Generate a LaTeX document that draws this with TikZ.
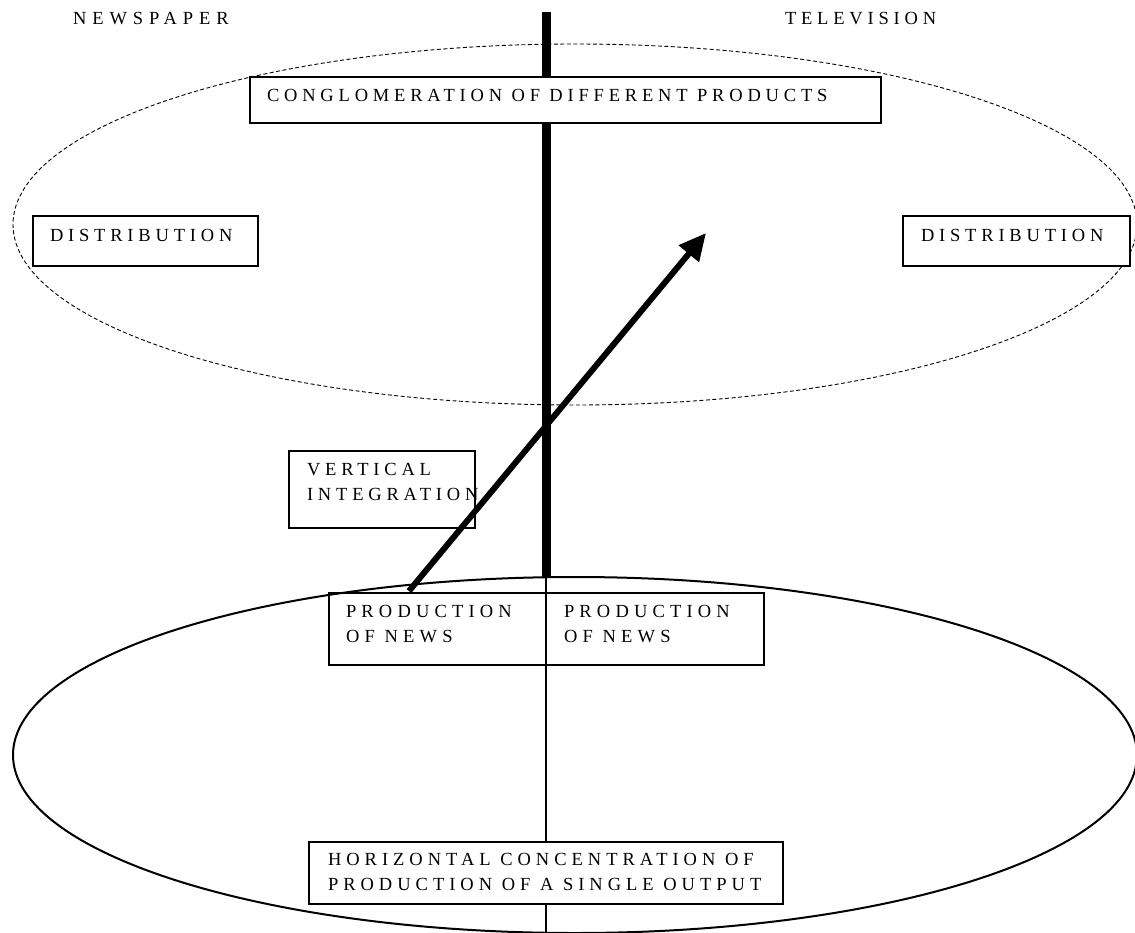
\documentclass[tikz,border=0pt]{standalone}
\usepackage{fontspec}
\setmainfont{Liberation Serif}
\usetikzlibrary{arrows.meta}
\newcommand\lsp[1]{\addfontfeatures{LetterSpace=#1}}
\tikzset{
  box/.style={draw, line width=1.2pt, fill=white, inner sep=0pt, outer sep=0pt, anchor=north west},
  lbl/.style={inner sep=0pt, outer sep=0pt, anchor=north west, align=left, font=\fontsize{18.5}{24.5}\selectfont},
  hdr/.style={inner sep=0pt, outer sep=0pt, anchor=base west, font=\fontsize{18.5}{24.5}\selectfont},
  dashell/.style={draw, line width=0.9pt, dash pattern=on 4pt off 2.5pt},
  solidell/.style={draw, line width=2pt},
  divider/.style={line width=9pt},
  thinline/.style={line width=1.4pt},
  bigarrow/.style={line width=6pt, -{Triangle[length=27pt, width=25pt]}}
}
\begin{document}
\begin{tikzpicture}[x=1pt,y=-1pt]
\useasboundingbox (0,0) rectangle (1135,932);
% ellipses
\draw[dashell] (575,224.5) ellipse [x radius=562, y radius=180.5];
\draw[solidell] (575,755) ellipse [x radius=562, y radius=178];
% dividing lines
\coordinate (dtop) at (546,12);
\coordinate (dmid) at (546,577);
\coordinate (dbot) at (546,932);
\draw[divider] (dtop) -- (dmid);
\draw[thinline] (dmid) -- (dbot);
% headers
\node[hdr] (news) at (73,24) {\lsp{32}NEWSPAPER};
\node[hdr] (tv) at (785,24) {\lsp{26}TELEVISION};
% boxes
\node[box, minimum width=631pt, minimum height=46pt] (cong) at (250,77) {};
\node[lbl] (congt) at (267,89.5) {\lsp{26}CONGLOMERATION OF DIFFERENT PRODUCTS};
\node[box, minimum width=225pt, minimum height=50pt] (distl) at (33,216) {};
\node[lbl] (distlt) at (50,229.5) {\lsp{26}DISTRIBUTION};
\node[box, minimum width=227pt, minimum height=50pt] (distr) at (903,216) {};
\node[lbl] (distrt) at (921,229.5) {\lsp{26}DISTRIBUTION};
\node[box, minimum width=186pt, minimum height=77pt] (vert) at (289,451) {};
\node[lbl] (vertt) at (307,463.5) {\lsp{26}VERTICAL\\\lsp{26}INTEGRATION};
\node[box, minimum width=435pt, minimum height=72pt, fill=none] (prod) at (329,593) {};
\node[lbl] (prodl) at (346,605.5) {\lsp{28}PRODUCTION\\\lsp{28}OF NEWS};
\node[lbl] (prodr) at (564,605.5) {\lsp{28}PRODUCTION\\\lsp{28}OF NEWS};
\node[box, minimum width=474pt, minimum height=62pt] (horiz) at (309,842) {};
\node[lbl] (horizt) at (328,853.5) {\lsp{27}HORIZONTAL CONCENTRATION OF\\\lsp{27}PRODUCTION OF A SINGLE OUTPUT};
% arrow
\coordinate (astart) at (409,591);
\coordinate (atip) at (706,233);
\draw[bigarrow] (astart) -- (atip);
\end{tikzpicture}
\end{document}
